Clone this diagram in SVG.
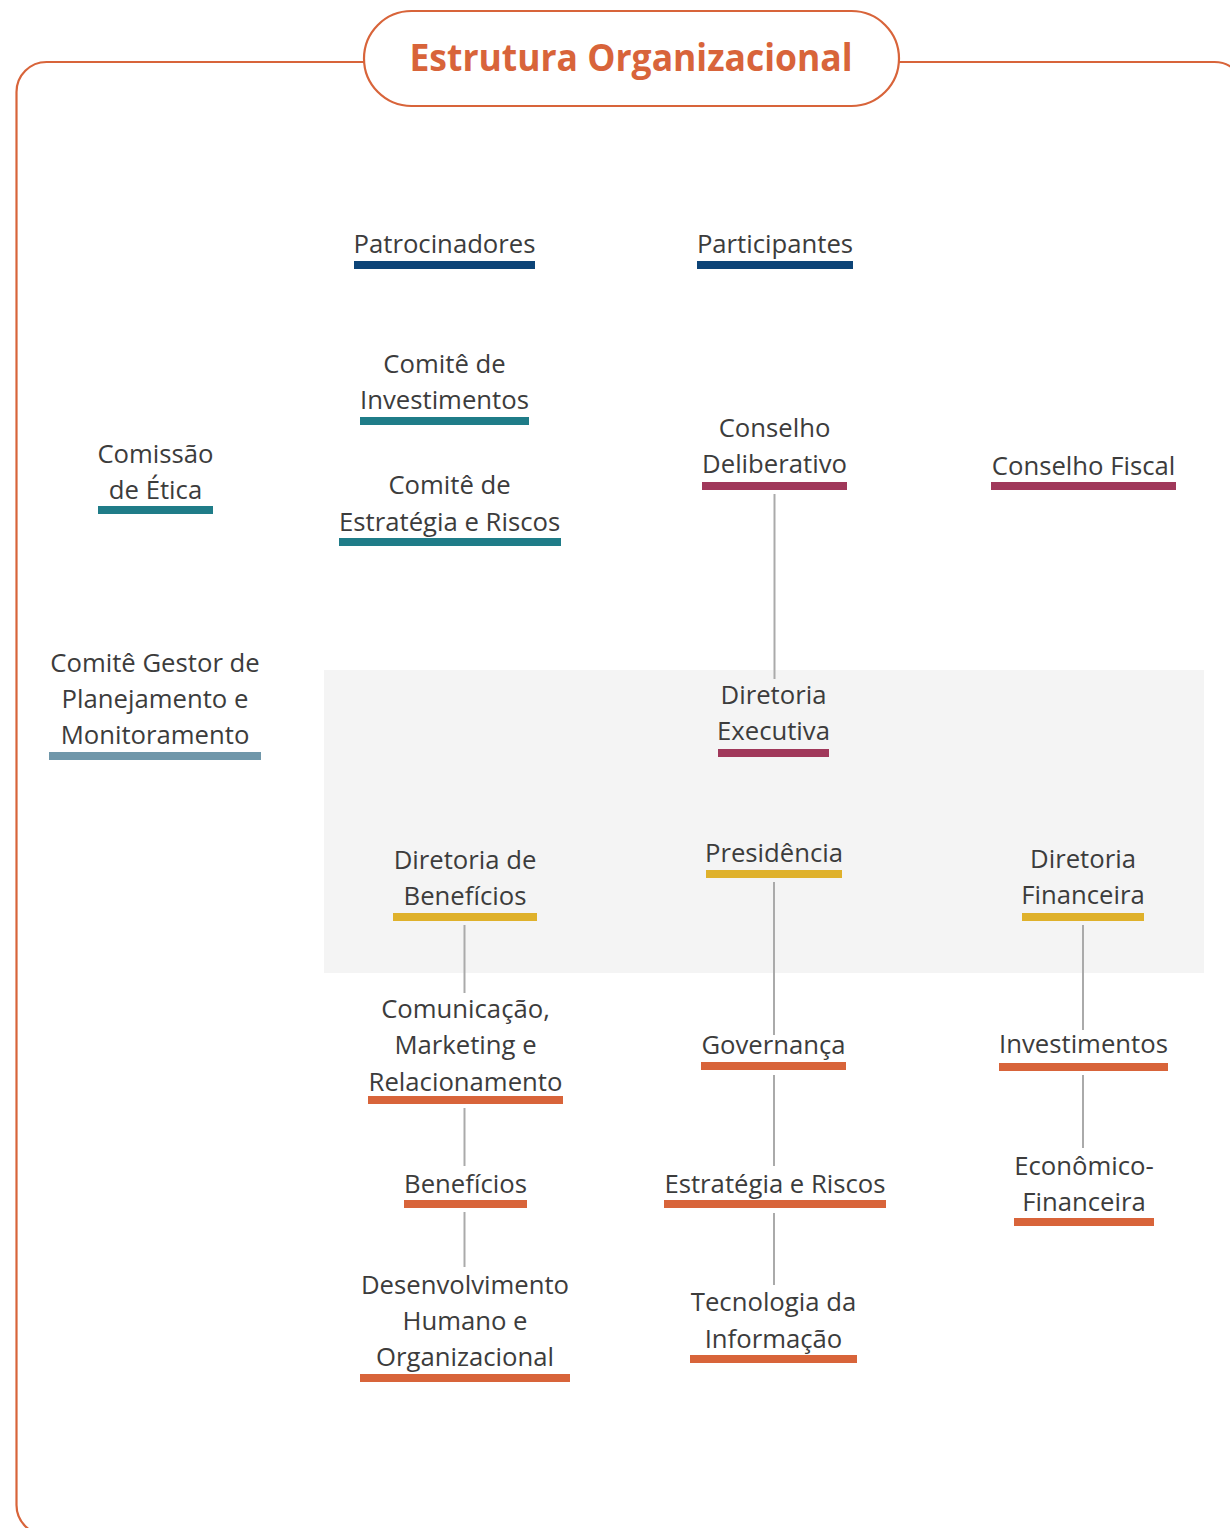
<svg xmlns="http://www.w3.org/2000/svg" width="1230" height="1528" viewBox="0 0 1230 1528">
<style>
.t{font-family:"Open Sans","Noto Sans","DejaVu Sans",sans-serif;font-size:25.7px;fill:#3c3c3c;text-anchor:middle}
.title{font-family:"Open Sans","Noto Sans",sans-serif;font-size:38px;font-weight:700;fill:#d8643a;text-anchor:middle}
.navy{fill:#0c4477}.teal{fill:#1f7c88}.maroon{fill:#a0385a}.gold{fill:#dfb12b}.orange{fill:#d8643a}.steel{fill:#7097aa}
.c{stroke:#aaaaaa;stroke-width:2;fill:none}
</style>
<rect width="1230" height="1528" fill="#ffffff"/>
<rect x="16.5" y="62" width="1228" height="1473" rx="30" fill="none" stroke="#d8643a" stroke-width="2.2"/>
<rect x="324" y="670" width="880" height="303" fill="#f4f4f4"/>
<g id="title">
<rect x="364" y="11" width="535" height="95" rx="47.5" fill="#ffffff" stroke="#d8643a" stroke-width="2.2"/>
<text class="title" x="631" y="71" textLength="443" lengthAdjust="spacingAndGlyphs">Estrutura Organizacional</text>
</g>
<g id="connectors">
<line class="c" x1="774.5" y1="494" x2="774.5" y2="679"/>
<line class="c" x1="464.5" y1="925" x2="464.5" y2="993"/>
<line class="c" x1="774" y1="882" x2="774" y2="1035"/>
<line class="c" x1="1083" y1="925" x2="1083" y2="1030"/>
<line class="c" x1="1083" y1="1075" x2="1083" y2="1148"/>
<line class="c" x1="464.5" y1="1108" x2="464.5" y2="1166"/>
<line class="c" x1="464.5" y1="1212" x2="464.5" y2="1267"/>
<line class="c" x1="774" y1="1075" x2="774" y2="1166"/>
<line class="c" x1="774" y1="1213" x2="774" y2="1285"/>
</g>
<g id="patrocinadores"><text class="t" x="444.5" y="253">Patrocinadores</text><rect class="navy" x="354" y="261" width="181" height="8"/></g>
<g id="participantes"><text class="t" x="775" y="253">Participantes</text><rect class="navy" x="697" y="261" width="156" height="8"/></g>
<g id="comite-investimentos"><text class="t" x="444.5" y="373">Comitê de</text><text class="t" x="444.5" y="409">Investimentos</text><rect class="teal" x="360" y="417" width="169" height="8"/></g>
<g id="comite-estrategia"><text class="t" x="449.6" y="494">Comitê de</text><text class="t" x="449.6" y="530.5">Estratégia e Riscos</text><rect class="teal" x="339" y="538" width="222" height="8"/></g>
<g id="comissao-etica"><text class="t" x="155.5" y="462.5">Comissão</text><text class="t" x="155.5" y="499">de Ética</text><rect class="teal" x="98" y="506" width="115" height="8"/></g>
<g id="conselho-deliberativo"><text class="t" x="774.5" y="436.5">Conselho</text><text class="t" x="774.5" y="472.5">Deliberativo</text><rect class="maroon" x="702" y="482" width="145" height="8"/></g>
<g id="conselho-fiscal"><text class="t" x="1083.5" y="475">Conselho Fiscal</text><rect class="maroon" x="991" y="482" width="185" height="8"/></g>
<g id="comite-gestor"><text class="t" x="155" y="672">Comitê Gestor de</text><text class="t" x="155" y="708">Planejamento e</text><text class="t" x="155" y="744">Monitoramento</text><rect class="steel" x="49" y="752" width="212" height="8"/></g>
<g id="diretoria-executiva"><text class="t" x="773.5" y="704">Diretoria</text><text class="t" x="773.5" y="740">Executiva</text><rect class="maroon" x="718" y="749" width="111" height="8"/></g>
<g id="diretoria-beneficios"><text class="t" x="465" y="869">Diretoria de</text><text class="t" x="465" y="905">Benefícios</text><rect class="gold" x="393" y="913" width="144" height="8"/></g>
<g id="presidencia"><text class="t" x="774" y="861.5">Presidência</text><rect class="gold" x="706" y="870" width="136" height="8"/></g>
<g id="diretoria-financeira"><text class="t" x="1083" y="868">Diretoria</text><text class="t" x="1083" y="904">Financeira</text><rect class="gold" x="1022" y="913" width="122" height="8"/></g>
<g id="comunicacao"><text class="t" x="465.5" y="1018">Comunicação,</text><text class="t" x="465.5" y="1054">Marketing e</text><text class="t" x="465.5" y="1091">Relacionamento</text><rect class="orange" x="368" y="1096" width="195" height="8"/></g>
<g id="governanca"><text class="t" x="773.5" y="1054">Governança</text><rect class="orange" x="701" y="1062" width="145" height="8"/></g>
<g id="investimentos"><text class="t" x="1083.5" y="1053">Investimentos</text><rect class="orange" x="999" y="1063" width="169" height="8"/></g>
<g id="beneficios"><text class="t" x="465.5" y="1192.5">Benefícios</text><rect class="orange" x="404" y="1200" width="123" height="8"/></g>
<g id="estrategia-riscos"><text class="t" x="775" y="1192.5">Estratégia e Riscos</text><rect class="orange" x="664" y="1200" width="222" height="8"/></g>
<g id="economico-financeira"><text class="t" x="1084" y="1175">Econômico-</text><text class="t" x="1084" y="1211">Financeira</text><rect class="orange" x="1014" y="1218" width="140" height="8"/></g>
<g id="desenvolvimento"><text class="t" x="465" y="1294">Desenvolvimento</text><text class="t" x="465" y="1330">Humano e</text><text class="t" x="465" y="1366">Organizacional</text><rect class="orange" x="360" y="1374" width="210" height="8"/></g>
<g id="tecnologia"><text class="t" x="773.5" y="1311">Tecnologia da</text><text class="t" x="773.5" y="1347.5">Informação</text><rect class="orange" x="690" y="1355" width="167" height="8"/></g>
</svg>
